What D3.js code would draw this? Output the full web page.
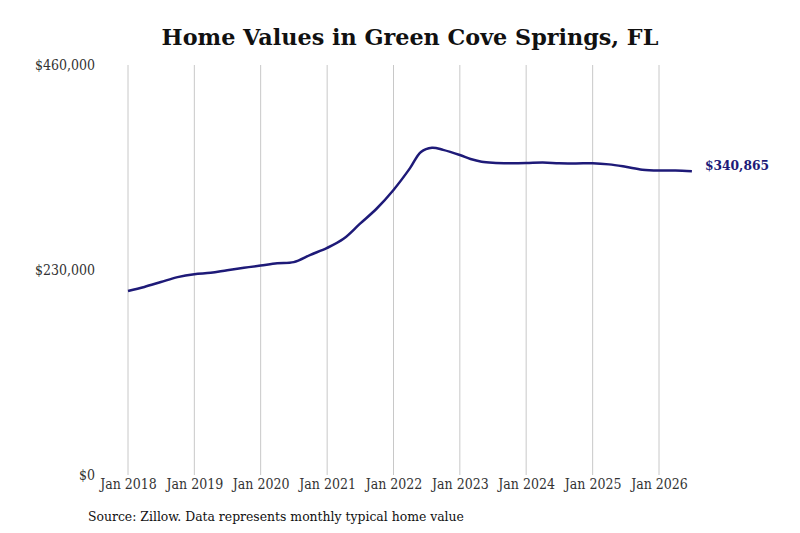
<!DOCTYPE html>
<html>
<head>
<meta charset="utf-8">
<script src="https://cdn.jsdelivr.net/npm/d3@7"></script>
<style>
  body { margin: 0; background: #fff; }
  svg text { font-family: "DejaVu Serif", serif; }
</style>
</head>
<body>
<div id="chart"></div>
<script>
// typical home value (in dollars)
const dates = [
  "2018-01", "2018-04", "2018-07", "2018-10",
  "2019-01", "2019-04", "2019-07", "2019-10",
  "2020-01", "2020-04", "2020-07", "2020-10",
  "2021-01", "2021-04", "2021-07", "2021-10",
  "2022-01", "2022-04", "2022-06", "2022-08", "2022-10",
  "2023-01", "2023-03", "2023-05", "2023-07", "2023-10",
  "2024-01", "2024-04", "2024-07", "2024-10",
  "2025-01", "2025-04", "2025-07", "2025-10",
  "2026-01", "2026-04", "2026-07"
];
const values = [
  206400, 211000, 216500, 222000,
  225300, 226800, 229800, 232500,
  235000, 237600, 238800, 247000,
  254800, 265000, 282000, 299000,
  319800, 344000, 362500, 367200, 364800,
  359000, 354500, 351500, 350300, 349800,
  350000, 350600, 349800, 349500,
  349800, 348500, 345800, 342600,
  341600, 341700, 340865
];
const yTicks = [0, 230000, 460000];
const xTickYears = [2018, 2019, 2020, 2021, 2022, 2023, 2024, 2025, 2026];

const parse = d3.timeParse("%Y-%m");
const data = dates.map((d, i) => ({date: parse(d), value: values[i]}));

const width = 800, height = 533;
const margin = {top: 65, right: 108, bottom: 58, left: 128};

const svg = d3.select("#chart").append("svg")
    .attr("width", width)
    .attr("height", height);

const x = d3.scaleTime()
    .domain([new Date(2018, 0, 1), new Date(2026, 0, 1)])
    .range([margin.left, 659]);
const y = d3.scaleLinear()
    .domain([0, 460000])
    .range([height - margin.bottom, margin.top]);

// title
svg.append("text")
    .attr("x", 410)
    .attr("y", 45)
    .attr("text-anchor", "middle")
    .style("font-size", "22.3px")
    .style("font-weight", "bold")
    .style("fill", "#111")
    .text("Home Values in Green Cove Springs, FL");

// vertical grid lines at each January
const xTickDates = xTickYears.map(yr => new Date(yr, 0, 1));
svg.append("g")
    .selectAll("line")
    .data(xTickDates)
    .enter().append("line")
    .attr("x1", d => x(d)).attr("x2", d => x(d))
    .attr("y1", y(460000)).attr("y2", y(0))
    .attr("stroke", "#c8c8c8")
    .attr("stroke-width", 1);

// x axis labels
const xAxis = d3.axisBottom(x)
    .tickValues(xTickDates)
    .tickSize(0)
    .tickPadding(4)
    .tickFormat(d3.timeFormat("Jan %Y"));
const gx = svg.append("g")
    .attr("transform", "translate(0," + y(0) + ")")
    .call(xAxis);
gx.select(".domain").remove();
gx.selectAll("text")
    .style("font-family", "'DejaVu Serif Condensed', 'DejaVu Serif', serif")
    .style("font-size", "14px")
    .style("fill", "#333");

// y axis labels
const yAxis = d3.axisLeft(y)
    .tickValues(yTicks)
    .tickSize(0)
    .tickPadding(33)
    .tickFormat(d => "$" + d3.format(",")(d));
const gy = svg.append("g")
    .attr("transform", "translate(" + margin.left + ",0)")
    .call(yAxis);
gy.select(".domain").remove();
gy.selectAll("text")
    .style("font-family", "'DejaVu Serif Condensed', 'DejaVu Serif', serif")
    .style("font-size", "14px")
    .style("fill", "#333");

// value line
const line = d3.line()
    .x(d => x(d.date))
    .y(d => y(d.value))
    .curve(d3.curveCatmullRom.alpha(0.5));

svg.append("path")
    .datum(data)
    .attr("fill", "none")
    .attr("stroke", "#1e1a78")
    .attr("stroke-width", 2.5)
    .attr("stroke-linejoin", "round")
    .attr("d", line);

// end label
const last = data[data.length - 1];
svg.append("text")
    .attr("x", x(last.date) + 13)
    .attr("y", y(last.value) - 1)
    .style("font-size", "12.3px")
    .style("font-weight", "bold")
    .style("fill", "#1e1a78")
    .text("$" + d3.format(",")(last.value));

// source
svg.append("text")
    .attr("x", 88)
    .attr("y", 521)
    .style("font-family", "'DejaVu Serif Condensed', 'DejaVu Serif', serif")
    .style("font-size", "13.8px")
    .style("fill", "#111")
    .text("Source: Zillow. Data represents monthly typical home value");
</script>
</body>
</html>
